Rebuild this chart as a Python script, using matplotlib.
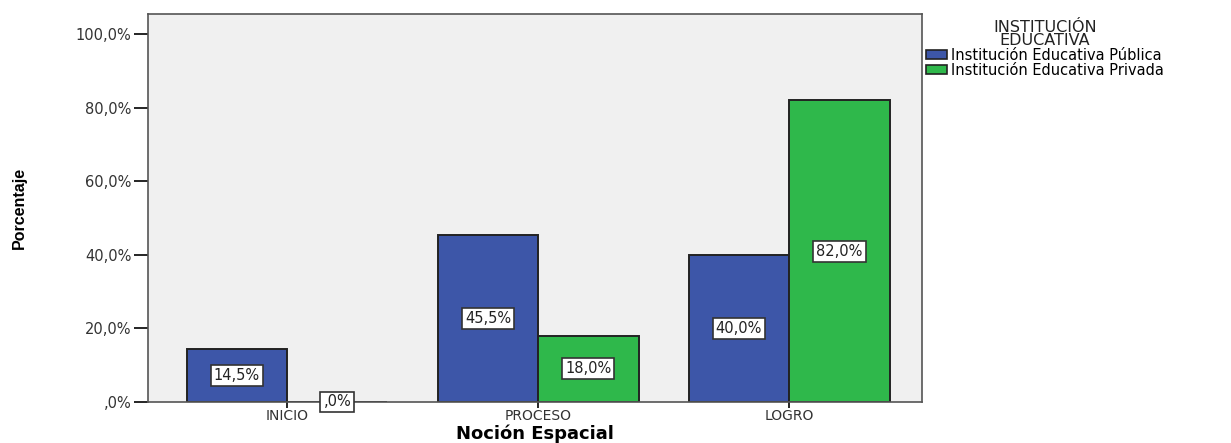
import numpy as np
import matplotlib.pyplot as plt
from matplotlib.patches import Patch

categorias = ['INICIO', 'PROCESO', 'LOGRO']
publica = [14.5, 45.5, 40.0]
privada = [0.0, 18.0, 82.0]
series = ['Institución Educativa Pública', 'Institución Educativa Privada']
colores = ['#3d56a8', '#2fb84b']
yticks = [0, 20, 40, 60, 80, 100]

plt.rcParams['font.family'] = ['DejaVu Sans']

fig = plt.figure(figsize=(12.31, 4.43), dpi=100)
ax = fig.add_axes([0.1202, 0.0926, 0.629, 0.8754])
ax.set_facecolor('#f0f0f0')

x = np.arange(len(categorias))
ancho = 0.4


def fmt(v):
    s = f'{v:.1f}'.replace('.', ',')
    if s.startswith('0'):
        s = s[1:]
    return s + '%'


for off, vals, col in [(-ancho / 2, publica, colores[0]), (ancho / 2, privada, colores[1])]:
    ax.bar(x + off, vals, ancho, color=col, edgecolor='#222222', linewidth=1.4, zorder=2)
    for xi, v in zip(x + off, vals):
        ax.text(xi, v / 2, fmt(v), ha='center', va='center', fontsize=10.5, zorder=4,
                color='#222222',
                bbox=dict(boxstyle='square,pad=0.2', fc='white', ec='#333333', lw=1.2))

ax.set_xlim(-0.554, 2.53)
ax.set_ylim(0, 105.4)
ax.set_yticks(yticks)
ax.set_yticklabels([fmt(t) for t in yticks], fontsize=10.5, color='#333333')
ax.set_xticks(x)
ax.set_xticklabels(categorias, fontsize=10, color='#333333')
ax.tick_params(axis='y', length=10, width=1.2, pad=2)
ax.tick_params(axis='x', length=4, width=1.2, pad=1)
for sp in ax.spines.values():
    sp.set_color('#555555')
    sp.set_linewidth(1.2)

ax.set_ylabel('Porcentaje', fontsize=11.5, fontweight='bold',
              family=['Liberation Sans Narrow', 'Liberation Sans', 'DejaVu Sans'])
ax.yaxis.set_label_coords(-0.157, 0.5)
ax.set_xlabel('Noción Espacial', fontsize=13, fontweight='bold', labelpad=1)

handles = [Patch(facecolor=c, edgecolor='#222222', linewidth=1.2) for c in colores]
leg = fig.legend(handles, series, title='INSTITUCIÓN\nEDUCATIVA', loc='upper left',
                 bbox_to_anchor=(0.752, 0.955), frameon=False, fontsize=10.5,
                 title_fontsize=11.5, handlelength=1.45, handleheight=0.5,
                 handletextpad=0.3, labelspacing=0.0, borderaxespad=0, borderpad=0)
leg.get_title().set_multialignment('center')
leg.get_title().set_linespacing(0.8)
leg.get_title().set_color('#222222')

fig.savefig('out.png', dpi=100)
